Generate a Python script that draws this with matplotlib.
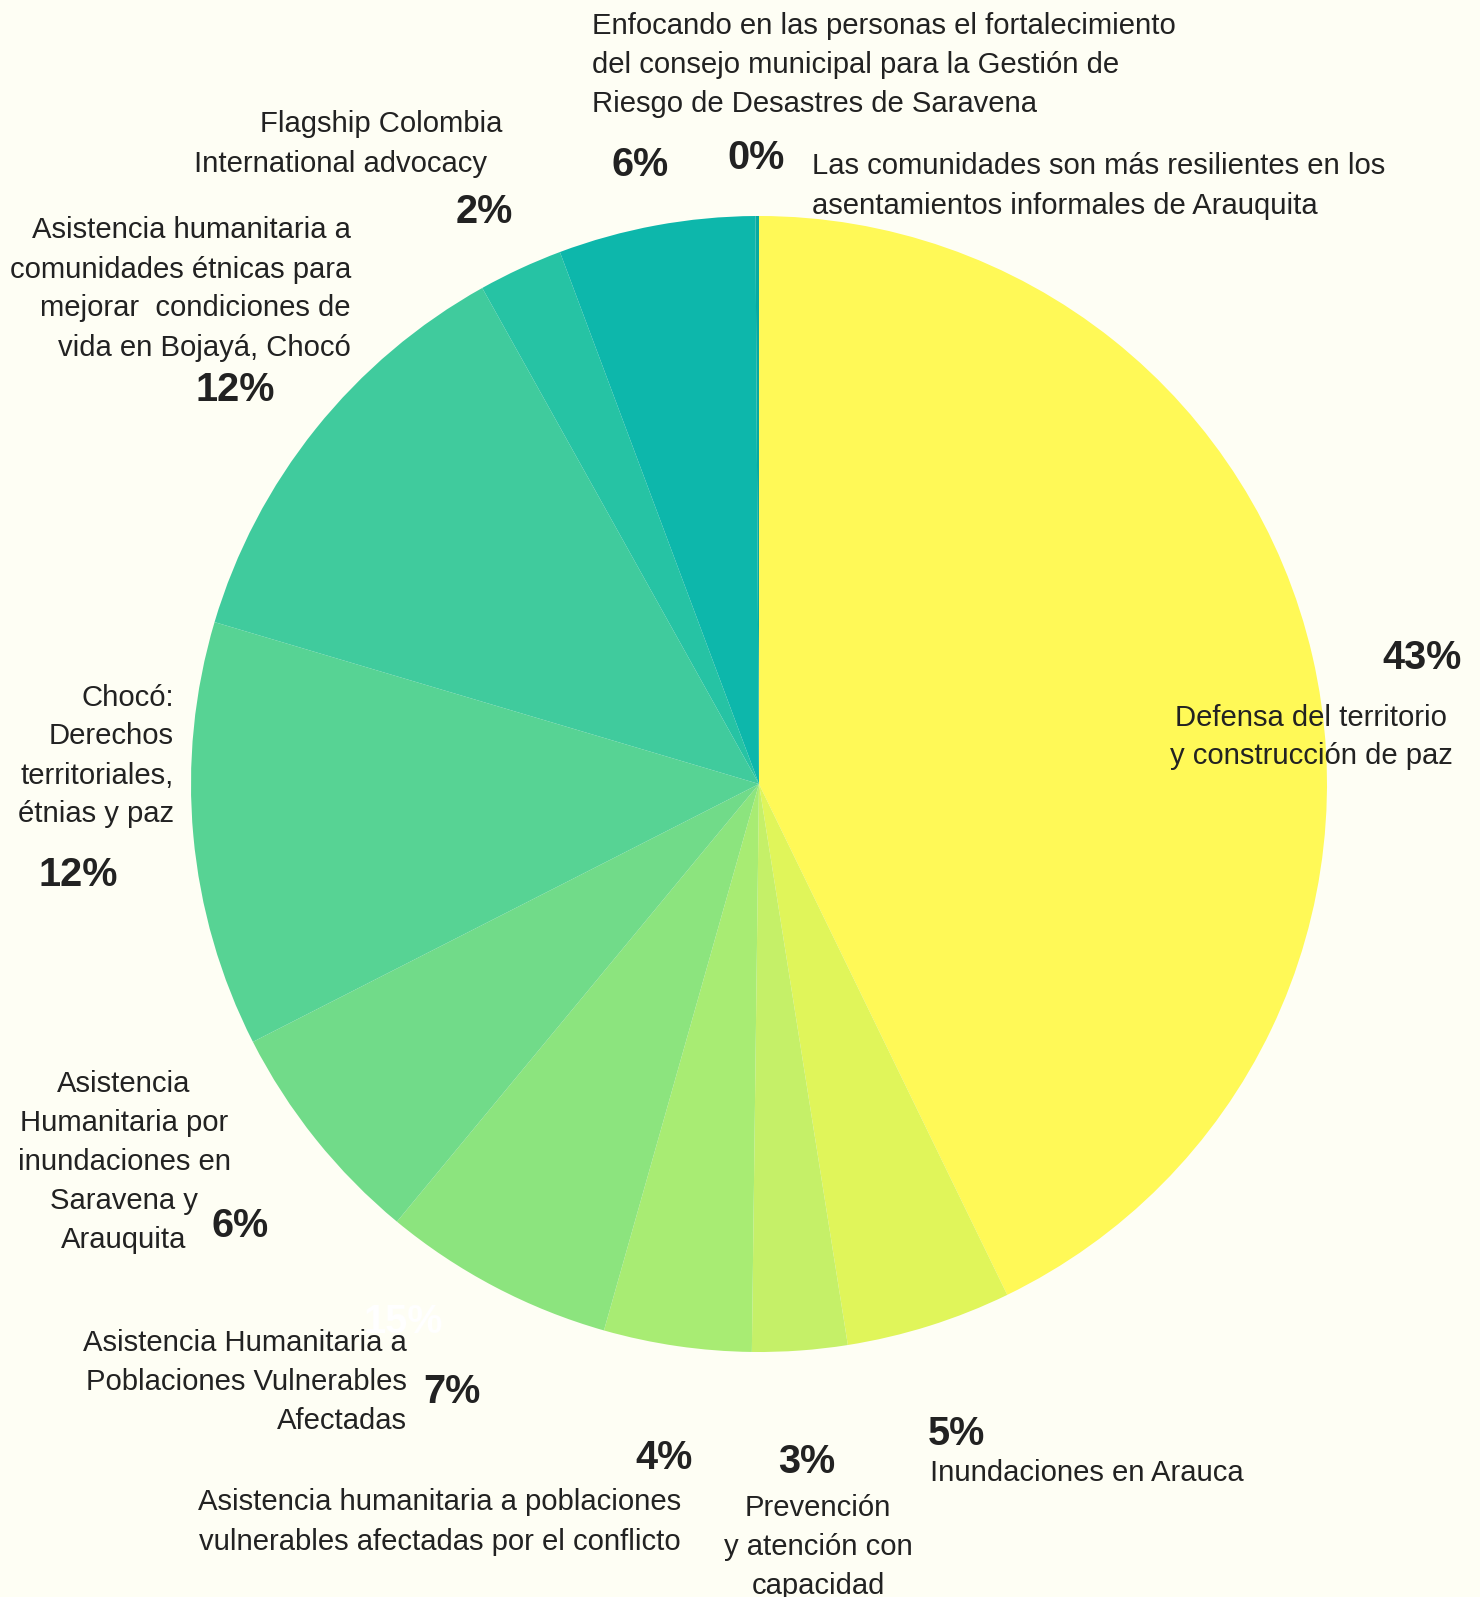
import matplotlib
matplotlib.use("Agg")
import matplotlib.pyplot as plt

plt.rcParams['font.family'] = ['Liberation Sans', 'DejaVu Sans']

# slice shares, clockwise from 12 o'clock
shares = [42.8, 4.7, 2.7, 4.2, 6.6, 6.5, 12.1, 12.3, 2.4, 5.6, 0.1]
pct_labels = ['43%', '5%', '3%', '4%', '7%', '6%', '12%', '12%', '2%', '6%', '0%']
names = [
    'Defensa del territorio\ny construcción de paz',
    'Inundaciones en Arauca',
    'Prevención\ny atención con\ncapacidad',
    'Asistencia humanitaria a poblaciones\nvulnerables afectadas por el conflicto',
    'Asistencia Humanitaria a\nPoblaciones Vulnerables\nAfectadas',
    'Asistencia\nHumanitaria por\ninundaciones en\nSaravena y\nArauquita',
    'Chocó:\nDerechos\nterritoriales,\nétnias y paz',
    'Asistencia humanitaria a\ncomunidades étnicas para\nmejorar  condiciones de\nvida en Bojayá, Chocó',
    'Flagship Colombia\nInternational advocacy',
    'Enfocando en las personas el fortalecimiento\ndel consejo municipal para la Gestión de\nRiesgo de Desastres de Saravena',
    'Las comunidades son más resilientes en los\nasentamientos informales de Arauquita',
]
colors = ['#FFF957', '#E0F55A', '#C5F068', '#A8EC73', '#8CE47E', '#71DB89',
          '#57D394', '#40CB9D', '#26C3A4', '#0DB7AB', '#09A9A0']

W, H = 1480, 1597
bg = '#FEFEF4'
ink = '#222222'

fig = plt.figure(figsize=(W / 100, H / 100), dpi=100, facecolor=bg)
ax = fig.add_axes([0, 0, 1, 1])

cx, cy, r = 759, H - 784, 568
ax.pie(shares, colors=colors, startangle=90, counterclock=False,
       center=(cx, cy), radius=r, frame=True,
       wedgeprops=dict(linewidth=0))
ax.set_xlim(0, W)
ax.set_ylim(0, H)
ax.axis('off')

FS = 21.1
FB = 28.5


def txt(x, y, s, ha='center', bold=False, color=ink, ls=1.5):
    ax.text(x, H - y, s, ha=ha, va='center', color=color,
            fontsize=FB if bold else FS,
            fontweight='bold' if bold else 'normal',
            linespacing=ls, zorder=5)


# name labels (x, y of the text block centre in pixels)
name_pos = [
    (1311, 737, 'center'),
    (930, 1473, 'left'),
    (818, 1547, 'center'),
    (440, 1522, 'center'),
    (407, 1382, 'right'),
    (124, 1162, 'center'),
    (174, 756, 'right'),
    (351, 289, 'right'),
    (None, None, None),
    (592, 65, 'left'),
    (812, 186, 'left'),
]
for (x, y, ha), s in zip(name_pos, names):
    if x is None:
        continue
    txt(x, y, s, ha=ha)

# Flagship lines sit slightly offset from each other
flag_lines = names[8].split('\n')
txt(381, 124, flag_lines[0])
txt(340, 164, flag_lines[1])

pct_pos = [(1422, 658), (956, 1434), (807, 1462), (664, 1458), (452, 1392),
           (240, 1226), (78, 875), (235, 390), (484, 212), (640, 165), (756, 158)]
for (x, y), s in zip(pct_pos, pct_labels):
    txt(x, y, s, bold=True)

# faint leftover label hidden behind the text
ax.text(403, H - 1322, '15%', ha='center', va='center', color='white',
        fontsize=FB, fontweight='bold', zorder=4)

fig.savefig('out.png', dpi=100, facecolor=bg)
